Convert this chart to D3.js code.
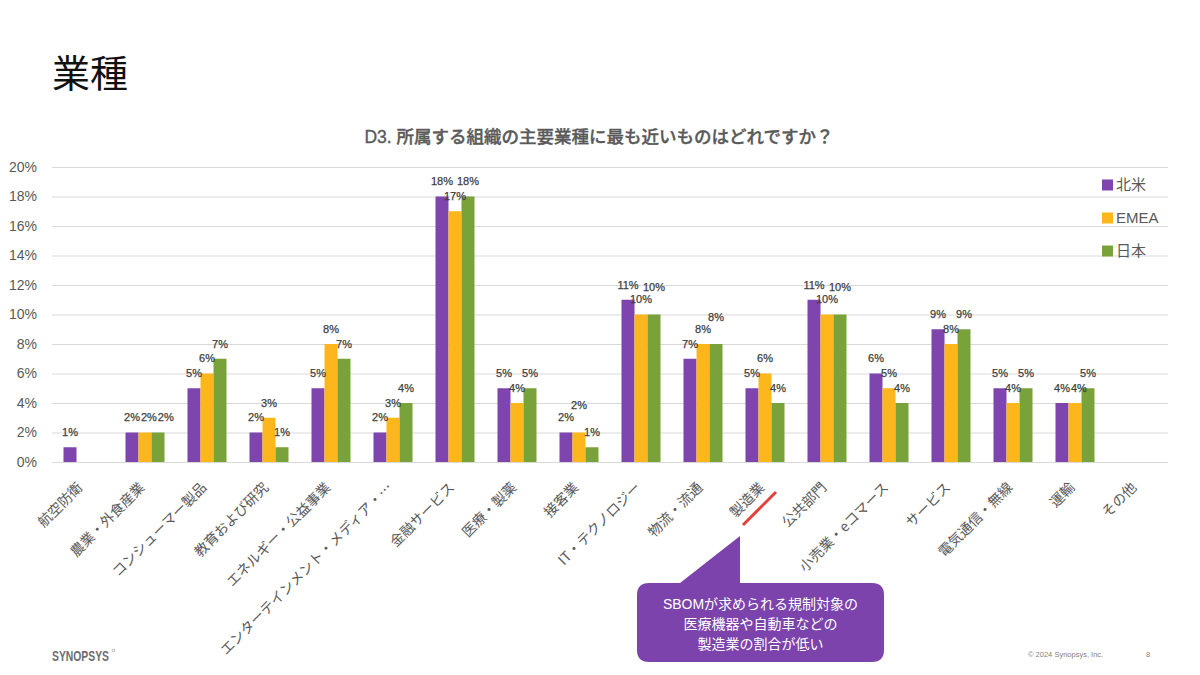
<!DOCTYPE html>
<html><head><meta charset="utf-8">
<script src="https://cdn.jsdelivr.net/npm/d3@7"></script>
<style>
body{margin:0;background:#fff}
svg{display:block}
text{font-family:"Liberation Sans","Noto Sans CJK JP",sans-serif}
.jp{font-family:"Noto Sans CJK JP","Liberation Sans",sans-serif}
</style>
</head><body>
<svg id="c" width="1200" height="675"></svg>
<script>
// ---- data ----
const categories = ["航空防衛","農業・外食産業","コンシューマー製品","教育および研究","エネルギー・公益事業","エンターテインメント・メディア・…","金融サービス","医療・製薬","接客業","IT・テクノロジー","物流・流通","製造業","公共部門","小売業・eコマース","サービス","電気通信・無線","運輸","その他"];
const seriesNames = ["北米","EMEA","日本"];
const northAmerica = [0.01,0.02,0.05,0.02,0.05,0.02,0.18,0.05,0.02,0.11,0.07,0.05,0.11,0.06,0.09,0.05,0.04,null];
const emea         = [null,0.02,0.06,0.03,0.08,0.03,0.17,0.04,0.02,0.10,0.08,0.06,0.10,0.05,0.08,0.04,0.04,null];
const japan        = [null,0.02,0.07,0.01,0.07,0.04,0.18,0.05,0.01,0.10,0.08,0.04,0.10,0.04,0.09,0.05,0.05,null];
const yTicks = [0,0.02,0.04,0.06,0.08,0.10,0.12,0.14,0.16,0.18,0.20];
const pageTitle = "業種";
const chartTitle = "D3. 所属する組織の主要業種に最も近いものはどれですか？";
const calloutLines = ["SBOMが求められる規制対象の","医療機器や自動車などの","製造業の割合が低い"];
const highlightCategory = "製造業";

const seriesData = [northAmerica, emea, japan];
const colors = ["#7D45AD","#FDB71D","#7AA23A"];

const svg = d3.select("#c");

// titles
svg.append("text").attr("class","jp").attr("x",52).attr("y",87)
  .attr("font-size",38).attr("fill","#111").text(pageTitle);
svg.append("text").attr("x",599).attr("y",143).attr("text-anchor","middle")
  .attr("font-size",17.5).attr("font-weight",500).attr("fill","#595959")
  .attr("stroke","#595959").attr("stroke-width",0.35).text(chartTitle);

// scales
const x = d3.scaleBand().domain(categories).range([52,1168]).paddingInner(0).paddingOuter(0);
const groupW = 39;
const x1 = d3.scaleBand().domain(d3.range(seriesNames.length)).range([0,groupW]);
const y = d3.scaleLinear().domain([0,0.2]).range([462,167]);
const fmt = d3.format(".0%");

// grid
const yAxis = d3.axisLeft(y).tickValues(yTicks).tickFormat(fmt).tickSize(-(1168-52)).tickPadding(15);
const gy = svg.append("g").attr("transform","translate(52,0)").call(yAxis);
gy.select(".domain").remove();
gy.selectAll(".tick line").attr("stroke","#d9d9d9").attr("stroke-width",1);
gy.selectAll(".tick text").attr("font-size",14).attr("fill","#595959");

// bars
const gx0 = c => x(c) + x.bandwidth()/2 - groupW/2;
seriesData.forEach((arr,s)=>{
  svg.append("g").selectAll("rect")
    .data(categories.map((c,i)=>({c,v:arr[i]})).filter(d=>d.v!=null))
    .join("rect")
    .attr("x",d=>gx0(d.c)+x1(s))
    .attr("width",x1.bandwidth())
    .attr("y",d=>y(d.v))
    .attr("height",d=>y(0)-y(d.v))
    .attr("fill",colors[s]);
});

// data labels with simple collision avoidance per group
const lab = [];
categories.forEach((c,i)=>{
  const grp = [];
  seriesData.forEach((arr,s)=>{
    const v = arr[i]; if(v==null) return;
    const t = fmt(v);
    grp.push({s,v,t,cx:gx0(c)+x1(s)+x1.bandwidth()/2,w:(t.length-1)*6.1+9.8});
  });
  const order = grp.slice().sort((a,b)=>b.v-a.v || a.s-b.s);
  const placed=[];
  order.forEach(l=>{
    l.x=l.cx; l.y=y(l.v)-15;
    const conflict=()=>placed.find(p=>Math.abs(p.x-l.x)<(p.w+l.w)/2+1 && Math.abs(p.y-l.y)<12);
    let p=conflict();
    if(p){
      const dir = l.cx>=p.x?1:-1;
      const need = (p.w+l.w)/2+1 - Math.abs(p.x-l.x);
      if(need<=9){ l.x += dir*need; if(conflict()) l.x=l.cx; }
    }
    let k=0; while(conflict() && k<40){l.y-=1;k++;}
    placed.push(l); lab.push(l);
  });
});
svg.append("g").selectAll("text").data(lab).join("text")
  .attr("x",d=>d.x).attr("y",d=>d.y).attr("dy","0.35em")
  .attr("text-anchor","middle").attr("font-size",11).attr("fill","#404040")
  .attr("stroke","#404040").attr("stroke-width",0.25)
  .text(d=>d.t);

// x labels
svg.append("g").selectAll("text").data(categories).join("text")
  .attr("class","jp")
  .attr("transform",d=>`translate(${x(d)+x.bandwidth()/2-3},485) rotate(-45)`)
  .attr("text-anchor","end").attr("dy","0.35em")
  .attr("font-size",14).attr("fill","#595959").text(d=>d);

// legend
const lg = svg.append("g");
seriesNames.forEach((n,s)=>{
  const ly = 185 + s*33;
  lg.append("rect").attr("x",1102).attr("y",ly-5.5).attr("width",11).attr("height",11).attr("fill",colors[s]);
  lg.append("text").attr("x",1116).attr("y",ly).attr("dy","0.35em").attr("font-size",15).attr("fill","#595959").text(n);
});

// highlight slash under 製造業
const hx = x(highlightCategory)+x.bandwidth()/2;
svg.append("line").attr("x1",hx-22).attr("y1",525).attr("x2",hx+11).attr("y2",492)
  .attr("stroke","#E2403A").attr("stroke-width",3);

// callout
const bx0=637,bx1=884,by0=583,by1=662,r=12;
const tipX = hx-25, tipY=536;
const p = d3.path();
p.moveTo(bx0+r,by0);
p.lineTo(hx-85,by0);
p.lineTo(tipX,tipY);
p.lineTo(tipX,by0);
p.lineTo(bx1-r,by0);
p.quadraticCurveTo(bx1,by0,bx1,by0+r);
p.lineTo(bx1,by1-r);
p.quadraticCurveTo(bx1,by1,bx1-r,by1);
p.lineTo(bx0+r,by1);
p.quadraticCurveTo(bx0,by1,bx0,by1-r);
p.lineTo(bx0,by0+r);
p.quadraticCurveTo(bx0,by0,bx0+r,by0);
p.closePath();
svg.append("path").attr("d",p.toString()).attr("fill","#7B43AB");
svg.append("g").selectAll("text").data(calloutLines).join("text")
  .attr("x",(bx0+bx1)/2).attr("y",(d,i)=>604+i*20).attr("dy","0.35em")
  .attr("text-anchor","middle").attr("font-size",14).attr("fill","#fff").text(d=>d);

// footer
svg.append("text").attr("x",52).attr("y",661).attr("fill","#6d6e70")
  .attr("font-family","DejaVu Sans Condensed, DejaVu Sans").attr("font-weight",700)
  .attr("font-size",14).attr("textLength",57).attr("lengthAdjust","spacingAndGlyphs").text("SYNOPSYS");
svg.append("circle").attr("cx",113.5).attr("cy",650.5).attr("r",1.3).attr("fill","none")
  .attr("stroke","#6d6e70").attr("stroke-width",0.5);
svg.append("text").attr("x",1028).attr("y",657).attr("font-size",7.5).attr("fill","#7f7f7f").text("© 2024 Synopsys, Inc.");
svg.append("text").attr("x",1146).attr("y",657).attr("font-size",7.5).attr("fill","#7f7f7f").text("8");
</script>
</body></html>
